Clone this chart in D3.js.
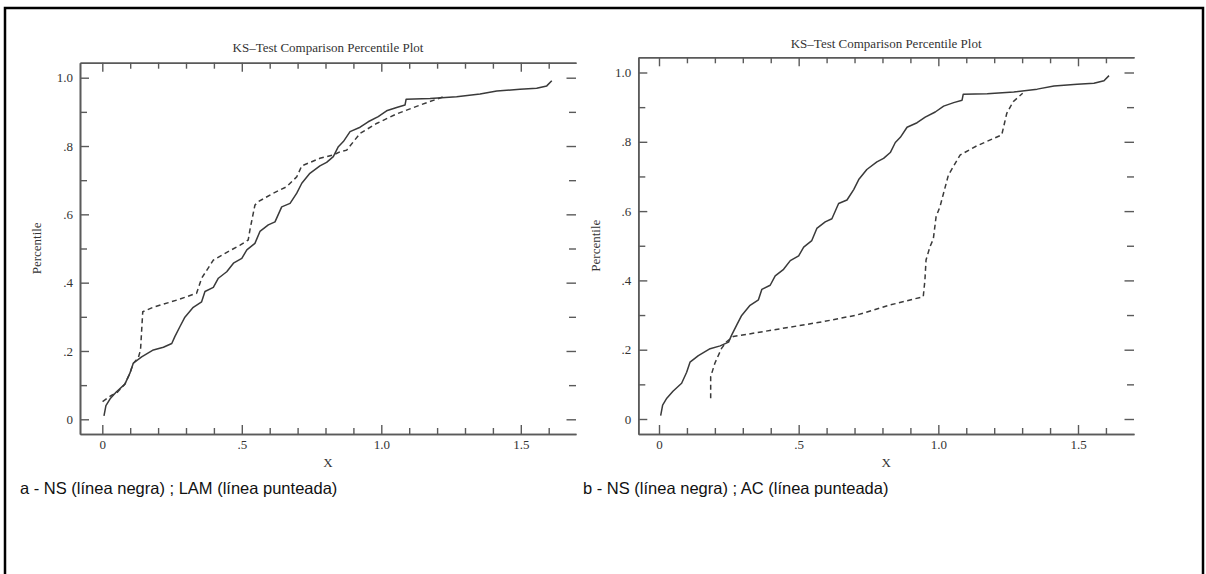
<!DOCTYPE html>
<html>
<head>
<meta charset="utf-8">
<script src="https://cdn.jsdelivr.net/npm/d3@7"></script>
<style>
  body { margin: 0; background: #fff; }
  svg { display: block; }
</style>
</head>
<body>
<svg id="chart" width="1206" height="574"></svg>
<script>
// ---- data -------------------------------------------------------------
// NS empirical percentile curve (solid line, drawn in both panels)
const nsX = [0.006, 0.013, 0.028, 0.05, 0.081, 0.099, 0.111, 0.141, 0.183, 0.219, 0.249, 0.26, 0.278, 0.296, 0.326, 0.356, 0.368, 0.398, 0.416, 0.446, 0.47, 0.5, 0.518, 0.547, 0.565, 0.595, 0.619, 0.643, 0.673, 0.697, 0.715, 0.744, 0.78, 0.804, 0.828, 0.846, 0.864, 0.888, 0.924, 0.953, 0.989, 1.019, 1.055, 1.085, 1.089, 1.175, 1.27, 1.354, 1.414, 1.497, 1.557, 1.593, 1.611];
const nsY = [0.01, 0.04, 0.06, 0.08, 0.103, 0.135, 0.164, 0.183, 0.203, 0.211, 0.222, 0.242, 0.271, 0.299, 0.328, 0.344, 0.374, 0.386, 0.413, 0.432, 0.457, 0.471, 0.496, 0.515, 0.55, 0.569, 0.578, 0.622, 0.632, 0.662, 0.691, 0.72, 0.742, 0.752, 0.769, 0.798, 0.813, 0.842, 0.855, 0.871, 0.886, 0.903, 0.913, 0.92, 0.937, 0.939, 0.944, 0.952, 0.961, 0.966, 0.969, 0.976, 0.991];

// LAM percentile curve (dashed, panel a)
const lamX = [0.001, 0.034, 0.05, 0.081, 0.099, 0.111, 0.129, 0.137, 0.145, 0.183, 0.267, 0.338, 0.356, 0.398, 0.44, 0.494, 0.523, 0.529, 0.547, 0.559, 0.613, 0.661, 0.697, 0.715, 0.78, 0.828, 0.852, 0.876, 0.924, 0.983, 1.055, 1.139, 1.222];
const lamY = [0.052, 0.071, 0.076, 0.103, 0.135, 0.164, 0.18, 0.203, 0.315, 0.328, 0.349, 0.369, 0.413, 0.466, 0.486, 0.51, 0.525, 0.554, 0.627, 0.637, 0.662, 0.681, 0.71, 0.742, 0.764, 0.774, 0.783, 0.788, 0.837, 0.866, 0.894, 0.92, 0.944];

// AC percentile curve (dashed, panel b)
const acX = [0.185, 0.185, 0.2, 0.224, 0.242, 0.266, 0.409, 0.588, 0.708, 0.827, 0.946, 0.952, 0.956, 0.97, 0.982, 0.992, 1.006, 1.036, 1.078, 1.137, 1.227, 1.245, 1.268, 1.302];
const acY = [0.06, 0.122, 0.161, 0.204, 0.223, 0.238, 0.257, 0.281, 0.3, 0.329, 0.353, 0.401, 0.459, 0.497, 0.519, 0.584, 0.613, 0.704, 0.762, 0.788, 0.82, 0.882, 0.916, 0.94];

// axis ticks
const xMajorTicks = [0, 0.5, 1.0, 1.5];
const xTickLabels = ["0", ".5", "1.0", "1.5"];
const xMinorTicks = [0.1, 0.2, 0.3, 0.4, 0.6, 0.7, 0.8, 0.9, 1.1, 1.2, 1.3, 1.4, 1.6];
const yMajorTicks = [0, 0.2, 0.4, 0.6, 0.8, 1.0];
const yTickLabels = ["0", ".2", ".4", ".6", ".8", "1.0"];
const yMinorTicks = [0.1, 0.3, 0.5, 0.7, 0.9];

const plotTitle = "KS\u2013Test Comparison Percentile Plot";
const xAxisTitle = "X";
const yAxisTitle = "Percentile";
const captions = [
  "a - NS (línea negra) ; LAM (línea punteada)",
  "b - NS (línea negra) ; AC (línea punteada)"
];

// ---- layout -----------------------------------------------------------
const panels = [
  { left: 80, right: 576, top: 62.7, bottom: 434, x0: 102.3, x15: 520.8, y0: 419.3, y1: 77.7,
    titleY: 52, yTitleX: 36, capX: 20, capY: 494,
    other: { xs: lamX, ys: lamY }, caption: captions[0] },
  { left: 638.3, right: 1134, top: 57.3, bottom: 434, x0: 659, x15: 1078, y0: 419, y1: 72.5,
    titleY: 48, yTitleX: 595, capX: 583, capY: 494,
    other: { xs: acX, ys: acY }, caption: captions[1] }
];

const svg = d3.select("#chart");
const serif = "'Liberation Serif', 'Times New Roman', serif";
const sans = "'Liberation Sans', Arial, sans-serif";
const axisColor = "#5a5a5a";
const inkColor = "#3a3a3a";

// outer frame
svg.append("rect")
  .attr("x", 5).attr("y", 8).attr("width", 1198).attr("height", 600)
  .attr("fill", "none").attr("stroke", "#000").attr("stroke-width", 2.5);

function pairs(xs, ys) { return xs.map((v, i) => [v, ys[i]]); }

panels.forEach(p => {
  // scales calibrated on the labelled ticks, then stretched to the frame
  const x = d3.scaleLinear().domain([0, 1.5]).range([p.x0, p.x15]);
  x.domain([x.invert(p.left), x.invert(p.right)]).range([p.left, p.right]);
  const y = d3.scaleLinear().domain([0, 1]).range([p.y0, p.y1]);
  y.domain([y.invert(p.bottom), y.invert(p.top)]).range([p.bottom, p.top]);

  const g = svg.append("g");

  const styleAxis = sel => {
    sel.selectAll("path.domain").attr("stroke", axisColor).attr("stroke-width", 1.6);
    sel.selectAll(".tick line").attr("stroke", axisColor).attr("stroke-width", 1.4);
    sel.selectAll("text").attr("font-family", serif).attr("font-size", 13).attr("fill", "#333");
  };

  // bottom axis: inward ticks, labels on majors
  g.append("g").attr("transform", `translate(0,${p.bottom})`)
    .call(d3.axisBottom(x).tickValues(xMajorTicks).tickSize(-9).tickSizeOuter(0).tickPadding(6)
      .tickFormat((d, i) => xTickLabels[i]))
    .call(styleAxis);
  g.append("g").attr("transform", `translate(0,${p.bottom})`)
    .call(d3.axisBottom(x).tickValues(xMinorTicks).tickSize(-6).tickSizeOuter(0).tickFormat(""))
    .call(styleAxis);

  // top axis
  g.append("g").attr("transform", `translate(0,${p.top})`)
    .call(d3.axisTop(x).tickValues(xMajorTicks).tickSize(-9).tickSizeOuter(0).tickFormat(""))
    .call(styleAxis);
  g.append("g").attr("transform", `translate(0,${p.top})`)
    .call(d3.axisTop(x).tickValues(xMinorTicks).tickSize(-6).tickSizeOuter(0).tickFormat(""))
    .call(styleAxis);

  // left axis
  g.append("g").attr("transform", `translate(${p.left},0)`)
    .call(d3.axisLeft(y).tickValues(yMajorTicks).tickSize(-9).tickSizeOuter(0).tickPadding(7)
      .tickFormat((d, i) => yTickLabels[i]))
    .call(styleAxis);
  g.append("g").attr("transform", `translate(${p.left},0)`)
    .call(d3.axisLeft(y).tickValues(yMinorTicks).tickSize(-7).tickSizeOuter(0).tickFormat(""))
    .call(styleAxis);

  // right side: ticks only
  [[yMajorTicks, -9.5], [yMinorTicks, -7]].forEach(([vals, size]) => {
    g.append("g").attr("transform", `translate(${p.right},0)`)
      .call(d3.axisRight(y).tickValues(vals).tickSize(size).tickSizeOuter(0).tickFormat(""))
      .call(styleAxis)
      .call(s => s.select("path.domain").remove());
  });

  // curves
  const line = d3.line().x(d => x(d[0])).y(d => y(d[1]));
  g.append("path").datum(pairs(nsX, nsY))
    .attr("d", line).attr("fill", "none")
    .attr("stroke", inkColor).attr("stroke-width", 1.5).attr("stroke-linejoin", "round");
  g.append("path").datum(pairs(p.other.xs, p.other.ys))
    .attr("d", line).attr("fill", "none")
    .attr("stroke", inkColor).attr("stroke-width", 1.5).attr("stroke-dasharray", "5,3.5");

  // titles
  const cx = (p.left + p.right) / 2;
  g.append("text").attr("x", cx).attr("y", p.titleY).attr("text-anchor", "middle")
    .attr("font-family", serif).attr("font-size", 13).attr("fill", "#333").text(plotTitle);
  g.append("text").attr("x", cx).attr("y", p.bottom + 33).attr("text-anchor", "middle")
    .attr("font-family", serif).attr("font-size", 13).attr("fill", "#333").text(xAxisTitle);
  g.append("text")
    .attr("transform", `translate(${p.yTitleX},${(p.top + p.bottom) / 2}) rotate(-90)`)
    .attr("text-anchor", "middle").attr("dy", "0.35em")
    .attr("font-family", serif).attr("font-size", 13).attr("fill", "#333").text(yAxisTitle);

  // caption
  svg.append("text").attr("x", p.capX).attr("y", p.capY)
    .attr("font-family", sans).attr("font-size", 16.5).attr("fill", "#111").text(p.caption);
});
</script>
</body>
</html>
